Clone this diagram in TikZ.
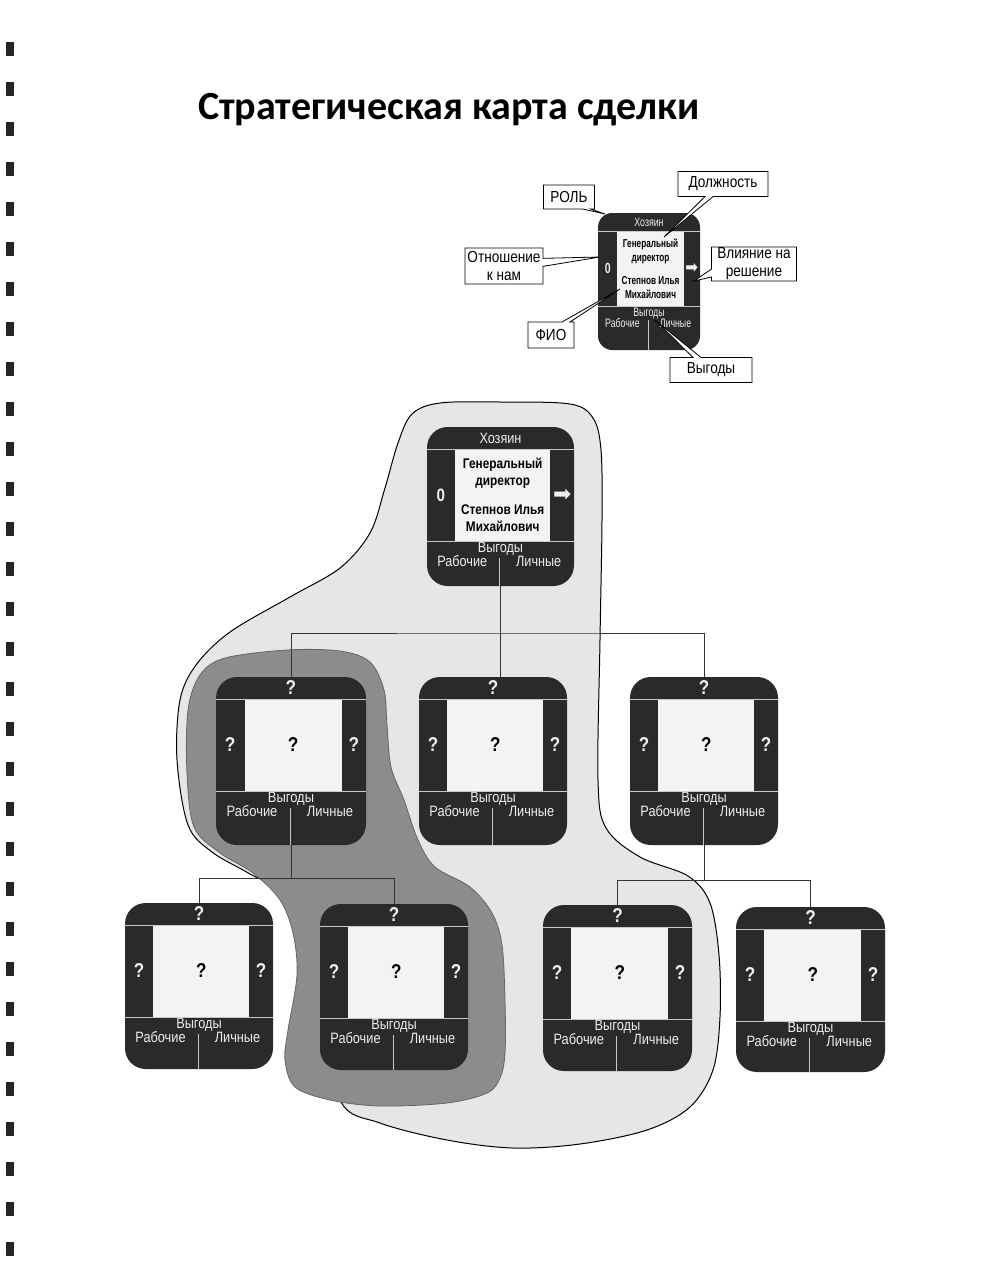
\documentclass[tikz,border=0pt]{standalone}
\usepackage{fontspec}
\setmainfont{Liberation Sans}
\newfontfamily\titlefont{Carlito}
\newfontfamily\cardfont[FakeStretch=0.85]{Liberation Sans}
\newfontfamily\symfont{DejaVu Sans}
\usepackage{tikz}
\usetikzlibrary{calc,shapes.callouts}

\definecolor{carddark}{HTML}{2A2A2A}
\definecolor{cardwhite}{HTML}{F3F3F3}
\definecolor{cardtext}{HTML}{EEEEEE}
\definecolor{cardrule}{HTML}{C8C8C8}
\definecolor{bloblight}{HTML}{E6E6E6}
\definecolor{blobdark}{HTML}{8C8C8C}

\newcommand{\qm}{{\fontsize{10}{12}\selectfont\bfseries ?}}
\newcommand{\rarr}{{\symfont\fontsize{11}{12}\selectfont ➡}}

% #1 name, #2 top left, #3 width, #4 height, #5 vertical factor, #6 top, #7 left, #8 middle, #9 right
\newcommand{\dealcard}[9]{%
\begin{scope}[shift={(#2)}]
\node[cardbox,rounded corners={#3*0.07pt},minimum width=#3*0.5pt,minimum height=#4*0.5pt] (#1) at ({#3/2},{#4/2}) {};
\fill[cardwhite] ({0.19*#3},{22*#5}) rectangle ({0.84*#3},{114*#5});
\draw[cardrule] (0,{22*#5}) -- (#3,{22*#5});
\draw[cardrule] (0,{114*#5}) -- (#3,{114*#5});
\draw[cardrule] ({0.495*#3},{131*#5}) -- ({0.495*#3},#4);
\node[cardtxt,xscale=#3/148,yscale=#5] (#1-role) at ({#3/2},{11*#5}) {#6};
\node[cardtxt,xscale=#3/148,yscale=#5] (#1-att) at ({0.095*#3},{68*#5}) {#7};
\node[midtxt,xscale=#3/148,yscale=#5] (#1-name) at ({0.515*#3},{68*#5}) {#8};
\node[cardtxt,xscale=#3/148,yscale=#5] (#1-infl) at ({0.92*#3},{68*#5}) {#9};
\node[cardtxt,xscale=#3/148,yscale=#5] (#1-ben) at ({#3/2},{122*#5}) {Выгоды};
\node[cardtxt,xscale=#3/148,yscale=#5] (#1-work) at ({0.24*#3},{134*#5}) {Рабочие};
\node[cardtxt,xscale=#3/148,yscale=#5] (#1-pers) at ({0.76*#3},{134*#5}) {Личные};
\end{scope}}

\begin{document}
\begin{tikzpicture}[x=0.5pt,y=-0.5pt,
  cardbox/.style={fill=carddark,inner sep=0pt,outer sep=0pt},
  cardtxt/.style={text=cardtext,inner sep=0pt,font=\cardfont\fontsize{7.5}{9}\selectfont},
  midtxt/.style={text=black,inner sep=0pt,align=center,font=\cardfont\bfseries\fontsize{7}{8.5}\selectfont},
  link/.style={draw=black!80,line width=0.5pt},
  callbox/.style={rectangle callout,draw=black,fill=white,line width=0.4pt,inner sep=0pt,
    callout pointer width=4pt,align=center,font=\cardfont\fontsize{8}{9}\selectfont}]
\useasboundingbox (0,0) rectangle (982,1280);
\fill[white] (0,0) rectangle (982,1280);

\foreach \y in {42,82,...,1242}
  \fill[black!85] (6,\y) rectangle (14,\y+14);

\node[anchor=base west,font=\titlefont\bfseries\fontsize{20}{24}\selectfont] (title) at (191,119) {Стратегическая карта сделки};

\draw[fill=bloblight,line width=0.5pt] plot[smooth cycle,tension=0.55] coordinates {
  (500,402) (570,404) (593,418) (601,450) (602,520) (600,640) (598,780) (606,828)
  (640,857) (688,876) (710,903) (719,955) (720,1017) (713,1070) (690,1107) (647,1130)
  (580,1144) (513,1148) (447,1140) (380,1123) (340,1100) (320,1000) (300,905) (250,874)
  (212,852) (188,825) (177,760) (180,700) (196,665) (230,632) (290,597) (340,568)
  (370,533) (385,488) (398,443) (412,414) (440,403)};
\draw[fill=blobdark,draw=black!60,line width=0.4pt] plot[smooth cycle,tension=0.55] coordinates {
  (287,650) (340,651) (370,662) (384,690) (387,725) (391,767) (404,800) (418,840)
  (435,867) (470,887) (492,913) (502,945) (505,1000) (505,1053) (500,1078) (487,1093)
  (447,1103) (380,1106) (330,1100) (295,1087) (285,1060) (288,1030) (297,975) (293,933)
  (280,900) (253,873) (220,853) (194,827) (187,773) (188,710) (200,675) (225,658)};

\dealcard{top}{427,427}{147}{159}{1}{Хозяин}{\bfseries\fontsize{9}{10}\selectfont 0}{Генеральный\\директор\\[6pt]Степнов Илья\\Михайлович}{\rarr}
\dealcard{A}{216,677}{150}{168}{1}{\qm}{\qm}{\qm}{\qm}
\dealcard{B}{419,677}{148}{168}{1}{\qm}{\qm}{\qm}{\qm}
\dealcard{C}{630,677}{148}{168}{1}{\qm}{\qm}{\qm}{\qm}
\dealcard{D}{125,903}{148}{166}{1}{\qm}{\qm}{\qm}{\qm}
\dealcard{E}{320,904}{148}{166}{1}{\qm}{\qm}{\qm}{\qm}
\dealcard{F}{543,905}{149}{166}{1}{\qm}{\qm}{\qm}{\qm}
\dealcard{G}{736,907}{149}{165}{1}{\qm}{\qm}{\qm}{\qm}

\coordinate (bus1) at (500,633);
\coordinate (bus2) at (291,878);
\coordinate (bus3) at (704,880);
\draw[link] (top.south) -- (B.north -| top.south);
\draw[link] (A.north) |- (bus1) -| (C.north);
\draw[link] (A.south) -- (A.south |- bus2);
\draw[link] (D.north) |- (bus2) -| (E.north);
\draw[link] (C.south) -- (C.south |- bus3);
\draw[link] (F.north) |- (bus3) -| (G.north);

\dealcard{sample}{598,213}{102}{137}{0.82}{Хозяин}{\bfseries\fontsize{9}{10}\selectfont 0}{Генеральный\\директор\\[6pt]Степнов Илья\\Михайлович}{\rarr}

\node[callbox,minimum width=51*0.5pt,minimum height=24*0.5pt,callout absolute pointer={(605,214)}] (role) at (569,197) {РОЛЬ};
\node[callbox,minimum width=90*0.5pt,minimum height=25*0.5pt,callout absolute pointer={(664,237)}] (post) at (723,184) {Должность};
\node[callbox,minimum width=78*0.5pt,minimum height=36*0.5pt,callout absolute pointer={(600,257)}] (attitude) at (504,266) {Отношение\\к нам};
\node[callbox,minimum width=85*0.5pt,minimum height=34*0.5pt,callout absolute pointer={(694,281)}] (influence) at (754,264) {Влияние на\\решение};
\node[callbox,minimum width=46*0.5pt,minimum height=26*0.5pt,callout absolute pointer={(620,289)}] (fio) at (551,335) {ФИО};
\node[callbox,minimum width=82*0.5pt,minimum height=25*0.5pt,callout absolute pointer={(655,320)}] (benefit) at (711,370) {Выгоды};
\end{tikzpicture}
\end{document}
